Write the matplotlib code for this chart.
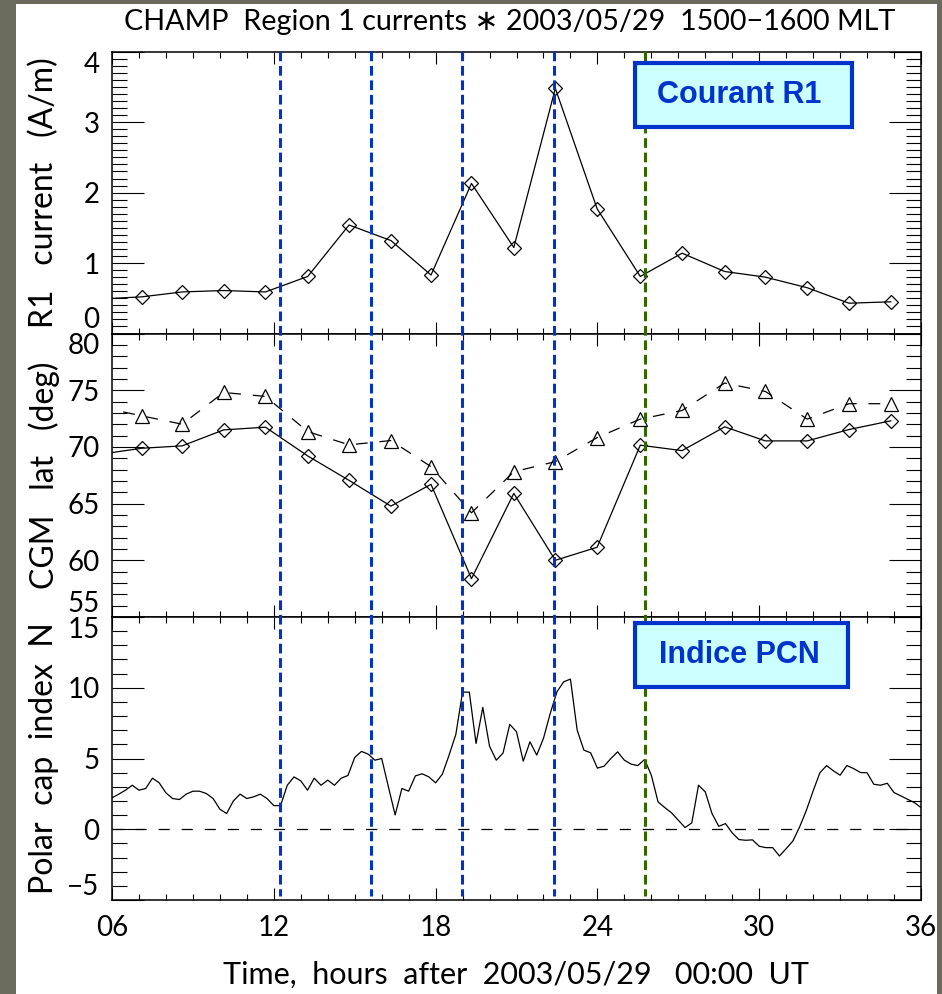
import numpy as np
import matplotlib
matplotlib.use('Agg')
import matplotlib.pyplot as plt
from matplotlib.patches import Rectangle
from matplotlib.lines import Line2D
import matplotlib.transforms as mtransforms
from matplotlib.ticker import MultipleLocator, FuncFormatter

plt.rcParams['font.family'] = ['Lato', 'DejaVu Sans']
plt.rcParams['font.weight'] = 'normal'
plt.rcParams['lines.scale_dashes'] = False

# ---------------- data ----------------
orbit_t = [5.56, 7.10, 8.60, 10.14, 11.69, 13.26, 14.79, 16.34, 17.83, 19.33, 20.90,
           22.44, 23.99, 25.59, 27.14, 28.72, 30.23, 31.78, 33.33, 34.88]
r1_current = [0.49, 0.52, 0.59, 0.61, 0.59, 0.81, 1.54, 1.32, 0.83, 2.13, 1.22,
              3.48, 1.77, 0.81, 1.14, 0.88, 0.80, 0.65, 0.43, 0.45]
cgm_lat_r1 = [69.35, 69.88, 70.09, 71.50, 71.74, 69.20, 67.05, 64.78, 66.70, 58.38, 65.90,
              60.00, 61.15, 70.15, 69.67, 71.77, 70.53, 70.53, 71.53, 72.30]
cgm_lat_tri = [73.52, 72.74, 72.00, 74.80, 74.45, 71.35, 70.18, 70.56, 68.26, 64.19, 67.81,
               68.70, 70.82, 72.45, 73.21, 75.63, 74.89, 72.45, 73.81, 73.81]

pcn_start, pcn_step = 6.0, 0.25  # hours, 15-min samples
pcn = [2.22, 2.48, 2.76, 3.11, 2.76, 2.88, 3.61, 3.28, 2.57, 2.17,
       2.10, 2.48, 2.69, 2.69, 2.52, 2.17, 1.42, 1.11, 2.00, 2.48,
       2.17, 2.29, 2.48, 2.17, 1.67, 1.67, 3.11, 3.70, 3.42, 2.76,
       3.61, 3.11, 3.47, 3.11, 3.61, 3.80, 5.07, 5.50, 5.31, 4.88,
       5.00, 3.00, 1.01, 2.88, 2.69, 3.77, 3.92, 3.70, 3.28, 3.89,
       5.24, 6.70, 9.69, 9.69, 6.06, 8.61, 5.87, 4.88, 5.38, 7.41,
       6.89, 4.81, 6.18, 5.24, 6.42, 8.18, 9.72, 10.42, 10.61, 7.00,
       5.59, 5.40, 4.32, 4.46, 5.00, 5.47, 4.88, 4.60, 4.50, 4.93,
       3.82, 1.93, 1.53, 1.16, 0.64, 0.12, 0.45, 3.11, 2.64, 1.11,
       0.21, 0.40, -0.26, -0.73, -0.78, -0.75, -1.20, -1.30, -1.30, -1.89,
       -1.37, -0.83, 0.17, 1.34, 2.71, 3.99, 4.50, 4.13, 3.82, 4.50,
       4.29, 4.01, 3.99, 3.18, 3.11, 3.25, 2.59, 2.36, 2.12, 1.89,
       1.53]
pcn_t = pcn_start + pcn_step * np.arange(len(pcn))

event_t = [12.23, 15.60, 18.97, 22.38, 25.75]
event_colors = ['#0033cc', '#0033cc', '#0033cc', '#0033cc', '#336600']

x_ticks = [6, 12, 18, 24, 30, 36]
r1_ticks = [0, 1, 2, 3, 4]
lat_ticks = [55, 60, 65, 70, 75, 80]
pcn_ticks = [-5, 0, 5, 10, 15]

title = 'CHAMP  Region 1 currents \u2217 2003/05/29  1500\u22121600 MLT'
xlabel = 'Time,  hours  after  2003/05/29   00:00  UT'
ylabels = ['R1   current   (A/m)', 'CGM   lat   (deg)', 'Polar  cap  index  N']
box_labels = ['Courant R1', 'Indice PCN']

# ---------------- figure ----------------
W, H = 942, 994
fig = plt.figure(figsize=(W / 100, H / 100), dpi=100, facecolor='#6a6b5d')
fig.patches.append(Rectangle((16 / W, 0), (937 - 16) / W, (H - 4) / H,
                             transform=fig.transFigure, facecolor='white',
                             edgecolor='none', zorder=-10))


def px_axes(x0, y0, x1, y1):
    return fig.add_axes([x0 / W, 1 - y1 / H, (x1 - x0) / W, (y1 - y0) / H])


ax1 = px_axes(112, 51.7, 921, 333.5)
ax2 = px_axes(112, 333.5, 921, 617)
ax3 = px_axes(112, 617, 921, 900)

FS = 20
for ax in (ax1, ax2, ax3):
    ax.set_xlim(6, 36)
    ax.set_xticks(x_ticks)
    ax.xaxis.set_minor_locator(MultipleLocator(1))
    ax.tick_params(axis='x', which='both', direction='in', top=True, bottom=True,
                   width=0.8, color='black')
    ax.tick_params(axis='x', which='major', length=8.6, pad=11, labelsize=FS,
                   labelcolor='black')
    ax.tick_params(axis='x', which='minor', length=4.3)
    ax.tick_params(axis='y', which='both', direction='in', left=True, right=True,
                   width=0.8, color='black')
    ax.tick_params(axis='y', which='major', length=23, pad=9, labelsize=FS,
                   labelcolor='black')
    ax.tick_params(axis='y', which='minor', length=11)
    for s in ax.spines.values():
        s.set_linewidth(1.1)

ax1.tick_params(axis='x', labelbottom=False)
ax2.tick_params(axis='x', labelbottom=False)
ax3.xaxis.set_major_formatter(FuncFormatter(lambda v, p: f'{int(round(v)):02d}'))

ax1.set_ylim(0, 4)
ax1.set_yticks(r1_ticks)
ax1.yaxis.set_minor_locator(MultipleLocator(0.1))

ax2.set_ylim(55, 80)
ax2.set_yticks(lat_ticks)
ax2.yaxis.set_minor_locator(MultipleLocator(1))

ax3.set_ylim(-5, 15)
ax3.set_yticks(pcn_ticks)
ax3.yaxis.set_minor_locator(MultipleLocator(1))
ax3.yaxis.set_major_formatter(FuncFormatter(lambda v, p: f'{int(round(v))}'.replace('-', '\u2212')))

for ax in (ax1, ax2, ax3):
    ticks = ax.yaxis.get_major_ticks()
    ticks[0].label1.set_verticalalignment('bottom')
    ticks[-1].label1.set_verticalalignment('top')

# ---------------- data lines ----------------
lw = 0.9
ax1.plot(orbit_t, r1_current, color='black', lw=lw, marker='D', ms=7.5,
         mfc='none', mec='black', mew=0.9)
ax2.plot(orbit_t, cgm_lat_tri, color='black', lw=lw, ls=(0, (8.5, 8.5)),
         marker='^', ms=10, mfc='none', mec='black', mew=0.9)
ax2.plot(orbit_t, cgm_lat_r1, color='black', lw=lw, marker='D', ms=7.5,
         mfc='none', mec='black', mew=0.9)
ax3.plot(pcn_t, pcn, color='black', lw=lw)
ax3.axhline(0, color='black', lw=lw, ls=(0, (8, 8.6)))

# ---------------- event lines ----------------
trans = mtransforms.blended_transform_factory(ax1.transData, fig.transFigure)
for t, c in zip(event_t, event_colors):
    fig.add_artist(Line2D([t, t], [1 - 51 / H, 1 - 896 / H], transform=trans,
                          color=c, lw=2.2, ls=(0, (7, 3.4)), zorder=5))

# ---------------- boxes ----------------
for (x0, y0, x1, y1), txt in zip([(635, 63.3, 851.7, 127.3), (635, 623.3, 848, 686.7)],
                                 box_labels):
    fig.add_artist(Rectangle((x0 / W, 1 - y1 / H), (x1 - x0) / W, (y1 - y0) / H,
                             transform=fig.transFigure, facecolor='#ccffff',
                             edgecolor='#0033cc', lw=3, zorder=6))
    fig.text(739.5 / W, 1 - (y0 + y1) / 2 / H, txt, fontsize=22, fontweight='bold',
             color='#0033cc', family=['Liberation Sans', 'DejaVu Sans'],
             ha='center', va='center', zorder=7)

# ---------------- texts ----------------
fig.text(510 / W, 1 - 22 / H, title, ha='center', va='center', fontsize=20.7,
         color='black')
fig.text(516 / W, 1 - 975 / H, xlabel, ha='center', va='center', fontsize=22,
         color='black')
for ax, lab in zip((ax1, ax2, ax3), ylabels):
    pos = ax.get_position()
    fig.text(44 / W, pos.y0 + pos.height / 2, lab, rotation=90, ha='center',
             va='center', fontsize=23, color='black')

fig.savefig('out.png', dpi=100, facecolor=fig.get_facecolor())
